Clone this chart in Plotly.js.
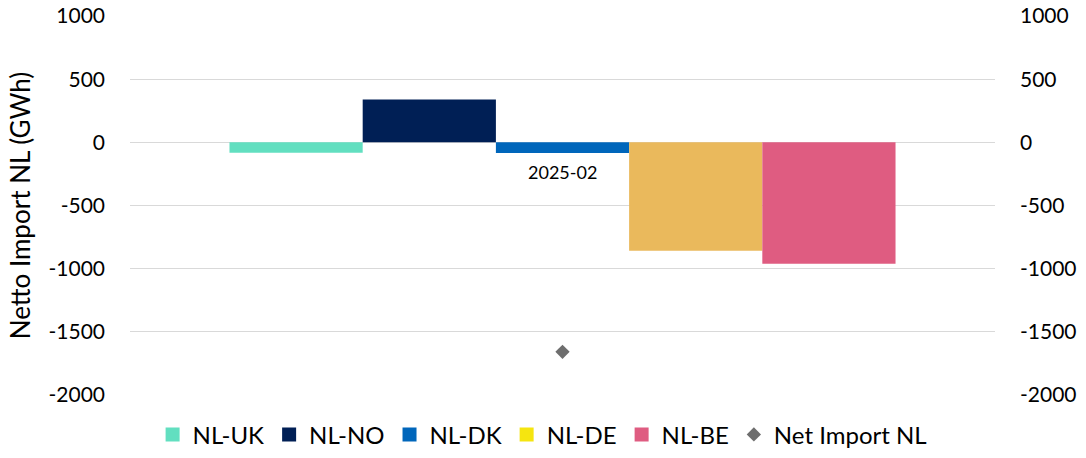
<!DOCTYPE html>
<html>
<head>
<meta charset="utf-8">
<script src="https://cdn.plot.ly/plotly-3.0.1.min.js"></script>
<style>html,body{margin:0;padding:0;background:#fff;}#chart{width:1086px;height:458px;}</style>
</head>
<body>
<div id="chart"></div>
<script>
const categories = ['2025-02'];
const seriesNames = ['NL-UK', 'NL-NO', 'NL-DK', 'NL-DE', 'NL-BE'];
const nlUK = [-82];
const nlNO = [340];
const nlDK = [-85];
const nlDE = [-859];
const nlBE = [-962];
const netImport = [-1658];
const yTicks = [1000, 500, 0, -500, -1000, -1500, -2000];

const barColors = ['#62DFC0', '#001F55', '#0066BB', '#EAB95C', '#DF5C81'];
const legendColors = ['#62DFC0', '#001F55', '#0066BB', '#F5E510', '#DF5C81'];
const seriesValues = [nlUK, nlNO, nlDK, nlDE, nlBE];

const FONT = 'Lato, "Open Sans", sans-serif';
const traces = [];
seriesValues.forEach((vals, i) => {
  traces.push({
    type: 'bar', x: categories, y: vals, name: seriesNames[i],
    marker: {color: barColors[i]}, showlegend: false, hoverinfo: 'name+y'
  });
});
// legend entries (swatches as shown in the reference legend)
seriesNames.forEach((n, i) => {
  traces.push({
    type: 'scatter', mode: 'markers', x: [null], y: [null], name: n,
    marker: {symbol: 'square', size: 14, color: legendColors[i]},
    showlegend: true, legendrank: i + 1
  });
});
traces.push({
  type: 'scatter', mode: 'markers', x: categories, y: netImport, name: 'Net Import NL',
  marker: {symbol: 'diamond', size: 11, color: '#6E6E6E'}, legendrank: 6
});
traces.push({
  type: 'scatter', mode: 'markers', x: categories, y: netImport, yaxis: 'y2',
  marker: {opacity: 0}, showlegend: false, hoverinfo: 'skip'
});

const layout = {
  width: 1086, height: 458,
  margin: {l: 130, r: 91, t: 16, b: 63, autoexpand: false},
  paper_bgcolor: '#fff', plot_bgcolor: '#fff',
  font: {family: FONT, color: '#000', size: 20},
  barmode: 'group', bargap: 0.23, bargroupgap: 0,
  showlegend: true,
  xaxis: {type: 'category', showticklabels: false, showgrid: false, zeroline: false, showline: false, ticks: ''},
  yaxis: {
    range: [-2000, 1000], tickvals: yTicks, ticktext: yTicks.map(String),
    showgrid: true, gridcolor: '#D9D9D9', gridwidth: 1,
    zeroline: true, zerolinecolor: '#D9D9D9', zerolinewidth: 1,
    showline: false, ticks: '', ticklabelstandoff: 24,
    tickfont: {size: 21, family: FONT, color: '#000'},
    title: {text: 'Netto Import NL (GWh)', font: {size: 26, family: FONT, color: '#000'}, standoff: 10}
  },
  yaxis2: {
    overlaying: 'y', side: 'right', range: [-2000, 1000], tickvals: yTicks, ticktext: yTicks.map(String),
    showgrid: false, zeroline: false, showline: false, ticks: '', ticklabelstandoff: 24,
    tickfont: {size: 21, family: FONT, color: '#000'}
  },
  legend: {
    orientation: 'h', x: 0.477, xanchor: 'center', y: -0.105, yanchor: 'middle',
    font: {size: 24, family: FONT, color: '#000'}, traceorder: 'normal',
    itemwidth: 30, tracegroupgap: 0
  },
  annotations: [{
    x: categories[0], y: -235, xref: 'x', yref: 'y', text: categories[0],
    showarrow: false, yanchor: 'middle', xanchor: 'center',
    font: {size: 18, family: FONT, color: '#000'}
  }]
};

Plotly.newPlot('chart', traces, layout, {displayModeBar: false, staticPlot: true});
</script>
</body>
</html>
